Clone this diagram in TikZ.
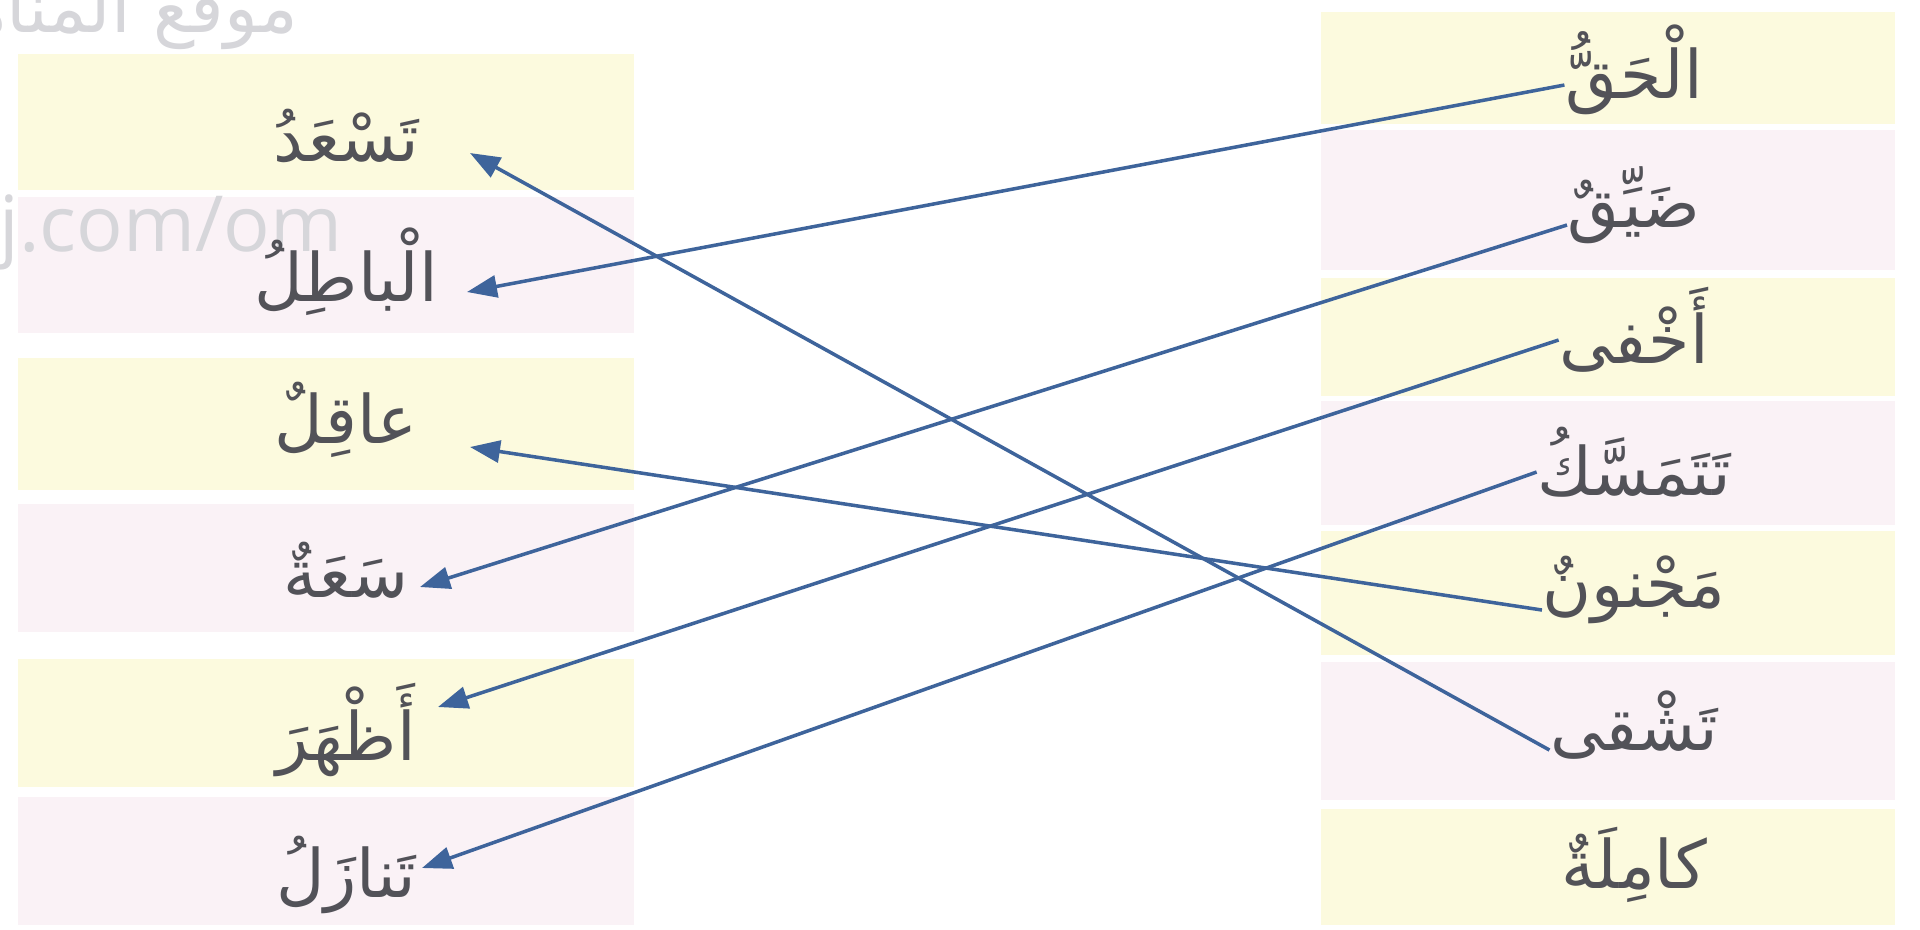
\documentclass[tikz,border=0pt]{standalone}
\usepackage{fontspec}
\usepackage{tikz}
\usetikzlibrary{arrows.meta,positioning}
\TeXXeTstate=1
\newfontfamily\arabicfont[Script=Arabic]{DejaVu Sans}
\newfontfamily\markfont{Open Sans}
\definecolor{pairyellow}{RGB}{252,250,222}
\definecolor{pairpink}{RGB}{250,242,246}
\definecolor{wordgray}{RGB}{82,82,88}
\definecolor{linkblue}{RGB}{62,100,155}
\definecolor{markgray}{RGB}{214,214,218}
\newcommand{\rtl}[1]{\beginR#1\endR}
\tikzset{
  pairbox/.style={rectangle,draw=none,inner sep=0pt},
  leftyel/.style={pairbox,fill=pairyellow,minimum width=6.16cm},
  leftpink/.style={pairbox,fill=pairpink,minimum width=6.16cm},
  rightyel/.style={pairbox,fill=pairyellow,minimum width=5.73cm},
  rightpink/.style={pairbox,fill=pairpink,minimum width=5.73cm},
  word/.style={inner sep=0pt,text=wordgray,font=\arabicfont\fontsize{19}{23}\selectfont},
  markword/.style={inner sep=0pt,text=markgray},
  linkarr/.style={-{Triangle[length=3mm,width=2.2mm]},line width=1pt,color=linkblue}
}

\begin{document}
\begin{tikzpicture}[x=0.01cm,y=-0.01cm]
  \useasboundingbox (0,0) rectangle (1920,929);
  \fill[white] (0,0) rectangle (1920,929);

  \node[leftyel,minimum height=1.36cm]  (lb1) at (326,122) {};
  \node[leftpink,minimum height=1.35cm] (lb2) at (326,265) {};
  \node[leftyel,minimum height=1.32cm]  (lb3) at (326,424) {};
  \node[leftpink,minimum height=1.27cm] (lb4) at (326,568) {};
  \node[leftyel,minimum height=1.27cm]  (lb5) at (326,723) {};
  \node[leftpink,minimum height=1.28cm] (lb6) at (326,861) {};

  \node[rightyel,minimum height=1.12cm]  (rb1) at (1608,68) {};
  \node[rightpink,minimum height=1.40cm] (rb2) at (1608,200) {};
  \node[rightyel,minimum height=1.18cm]  (rb3) at (1608,337) {};
  \node[rightpink,minimum height=1.23cm] (rb4) at (1608,463) {};
  \node[rightyel,minimum height=1.23cm]  (rb5) at (1608,593) {};
  \node[rightpink,minimum height=1.38cm] (rb6) at (1608,731) {};
  \node[rightyel,minimum height=1.15cm]  (rb7) at (1608,867) {};

  \begin{scope}
    \clip (0,0) rectangle (1920,929);
    \node[markword,anchor=base east,font=\arabicfont\fontsize{20}{24}\selectfont] (mark1)
        at (299,32) {\rtl{موقع المناه^^^^200d}};
    \node[markword,anchor=base east,font=\markfont\fontsize{22}{26}\selectfont] (mark2)
        at (343,251) {j.com/om};
  \end{scope}

  \node[word] (lw1) at (346,136) {\rtl{تَسْعَدُ}};
  \node[word] (lw2) at (346,272) {\rtl{الْباطِلُ}};
  \node[word] (lw3) at (346,420) {\rtl{عاقِلٌ}};
  \node[word] (lw4) at (346,570) {\rtl{سَعَةٌ}};
  \node[word] (lw5) at (346,730) {\rtl{أَظْهَرَ}};
  \node[word] (lw6) at (346,875) {\rtl{تَنازَلُ}};

  \node[word] (rw1) at (1634,70)  {\rtl{الْحَقُّ}};
  \node[word] (rw2) at (1634,205) {\rtl{ضَيِّقٌ}};
  \node[word] (rw3) at (1634,330) {\rtl{أَخْفى}};
  \node[word] (rw4) at (1634,462) {\rtl{تَتَمَسَّكُ}};
  \node[word] (rw5) at (1634,590) {\rtl{مَجْنونٌ}};
  \node[word] (rw6) at (1634,725) {\rtl{تَشْقى}};
  \node[word] (rw7) at (1634,865) {\rtl{كامِلَةٌ}};

  \coordinate (tip1) at (470,153);
  \coordinate (tip2) at (467,292);
  \coordinate (tip3) at (470,447);
  \coordinate (tip4) at (420,587);
  \coordinate (tip5) at (438,707);
  \coordinate (tip6) at (422,868);

  \draw[linkarr] ([yshift=-.15cm]rw1.west) -- (tip2);
  \draw[linkarr] ([yshift=-.2cm]rw2.west) -- (tip4);
  \draw[linkarr] ([yshift=-.1cm]rw3.west) -- (tip5);
  \draw[linkarr] ([yshift=-.1cm]rw4.west) -- (tip6);
  \draw[linkarr] ([yshift=-.2cm]rw5.west) -- (tip3);
  \draw[linkarr] ([yshift=-.25cm]rw6.west) -- (tip1);
\end{tikzpicture}
\end{document}
